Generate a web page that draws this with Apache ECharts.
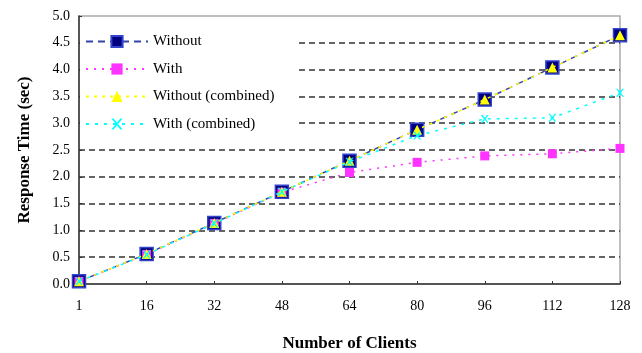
<!DOCTYPE html>
<html>
<head>
<meta charset="utf-8">
<script src="https://cdn.jsdelivr.net/npm/echarts@6/dist/echarts.min.js"></script>
<style>html,body{margin:0;padding:0;background:#fff}#c{width:642px;height:353px}</style>
</head>
<body>
<div id="c"></div>
<script>
var categories = ['1','16','32','48','64','80','96','112','128'];
var yTicks = ['0.0','0.5','1.0','1.5','2.0','2.5','3.0','3.5','4.0','4.5','5.0'];
var without = [0.05, 0.56, 1.14, 1.72, 2.30, 2.88, 3.44, 4.04, 4.64];
var withVals = [0.05, 0.55, 1.13, 1.71, 2.08, 2.27, 2.39, 2.43, 2.53];
var withoutCombined = [0.05, 0.56, 1.14, 1.72, 2.30, 2.88, 3.44, 4.04, 4.64];
var withCombined = [0.05, 0.55, 1.13, 1.72, 2.28, 2.77, 3.08, 3.10, 3.57];

var serif = '"Liberation Serif", "Times New Roman", serif';
var xPath = 'path://M0,0 L2,0 L5,3.6 L8,0 L10,0 L6,5 L10,10 L8,10 L5,6.4 L2,10 L0,10 L4,5 Z';
var gridColors = [];
for (var i = 0; i < yTicks.length; i++) gridColors.push(i === 0 || i === yTicks.length - 1 ? 'rgba(0,0,0,0)' : '#333');

var chart = echarts.init(document.getElementById('c'), null, {renderer: 'canvas'});
chart.setOption({
  animation: false,
  backgroundColor: '#fff',
  grid: {left: 79, right: 22, top: 16, bottom: 69, show: true, borderColor: '#aaa', borderWidth: 1.5,
    backgroundColor: 'transparent', containLabel: false, outerBoundsMode: 'none'},
  legend: {
    orient: 'vertical', left: 80, top: 28, backgroundColor: '#fff',
    padding: [6, 22, 6, 5], itemWidth: 62, itemHeight: 14, itemGap: 12.5,
    textStyle: {fontFamily: serif, fontSize: 15, color: '#000'},
    data: ['Without', 'With', 'Without (combined)', 'With (combined)']
  },
  xAxis: {
    type: 'category', data: categories, boundaryGap: false,
    name: 'Number of Clients', nameLocation: 'middle', nameGap: 51,
    nameTextStyle: {fontFamily: serif, fontSize: 17, fontWeight: 'bold', color: '#000'},
    axisLine: {lineStyle: {color: '#333', width: 1.5}},
    axisTick: {inside: true, length: 3, lineStyle: {color: '#333'}},
    axisLabel: {fontFamily: serif, fontSize: 14, color: '#000', margin: 15},
    splitLine: {show: false}
  },
  yAxis: {
    type: 'value', min: 0, max: 5, interval: 0.5,
    name: 'Response Time (sec)', nameLocation: 'middle', nameGap: 46,
    nameTextStyle: {fontFamily: serif, fontSize: 17, fontWeight: 'bold', color: '#000'},
    axisLine: {show: true, lineStyle: {color: '#333', width: 1.5}},
    axisTick: {show: true, inside: true, length: 3, lineStyle: {color: '#333'}},
    axisLabel: {fontFamily: serif, fontSize: 14, color: '#000', margin: 9,
      formatter: function (v) { return yTicks[Math.round(v / 0.5)]; }},
    splitLine: {show: true, lineStyle: {color: gridColors, type: [6, 4], width: 1.5}}
  },
  series: [
    {name: 'Without', type: 'line', data: without, symbol: 'rect', symbolSize: 13,
      itemStyle: {color: '#000080', borderColor: '#3344cc', borderWidth: 1.5},
      lineStyle: {color: '#3344aa', width: 1.5, type: [7, 5]}, z: 2},
    {name: 'With', type: 'line', data: withVals, symbol: 'rect', symbolSize: 9,
      itemStyle: {color: '#ff33ff', borderWidth: 0},
      lineStyle: {color: '#ff33ff', width: 1.5, type: [2, 6]}, z: 3},
    {name: 'Without (combined)', type: 'line', data: withoutCombined, symbol: 'triangle', symbolSize: 10,
      itemStyle: {color: '#ffff00', borderWidth: 0},
      lineStyle: {color: '#ffff00', width: 1.5, type: [3, 5]}, z: 4},
    {name: 'With (combined)', type: 'line', data: withCombined, symbol: xPath, symbolSize: 8,
      itemStyle: {color: '#00ffff', borderWidth: 0},
      lineStyle: {color: '#00ffff', width: 1.5, type: [3, 6]}, z: 5}
  ]
});
</script>
</body>
</html>
